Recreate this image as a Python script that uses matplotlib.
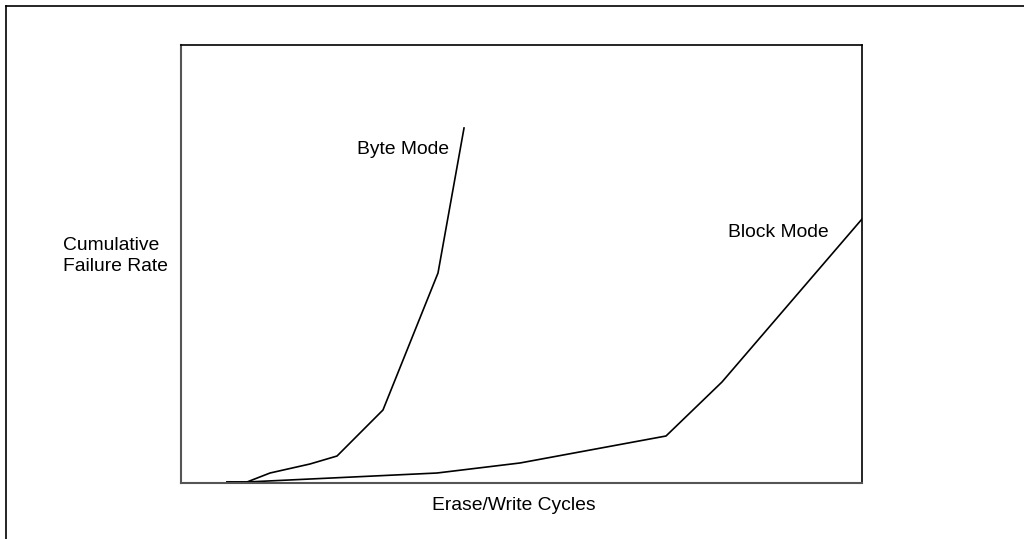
import matplotlib
matplotlib.use('Agg')
import matplotlib.pyplot as plt
from matplotlib.lines import Line2D

plt.rcParams['font.family'] = ['Liberation Sans', 'DejaVu Sans']

# curve points (x, y in 0-100 scale of the box)
byte_x = [6.75, 9.69, 13.07, 18.94, 22.91, 29.66, 37.74, 41.56]
byte_y = [0.23, 0.23, 2.28, 4.34, 6.16, 16.67, 47.95, 81.05]
block_x = [6.75, 9.69, 37.59, 49.78, 71.22, 79.44, 100.0]
block_y = [0.23, 0.23, 2.28, 4.57, 10.73, 23.06, 60.27]

W, H = 1024, 539
fs = 13.9
fig = plt.figure(figsize=(W/100, H/100), dpi=100)
ax = fig.add_axes([181/W, 1-483/H, 681/W, 438/H])

ax.plot(byte_x, byte_y, color='black', lw=1.2)
ax.plot(block_x, block_y, color='black', lw=1.2)
ax.set_xlim(0, 100)
ax.set_ylim(0, 100)
ax.set_xticks([])
ax.set_yticks([])
for s in ['left', 'bottom']:
    ax.spines[s].set_color('#555555')
    ax.spines[s].set_linewidth(1.5)
for s in ['top', 'right']:
    ax.spines[s].set_color('black')
    ax.spines[s].set_linewidth(1.2)

# labels placed in pixel positions (baseline)
def px_text(x, y, s, ha='left'):
    fig.text(x/W, 1-y/H, s, fontsize=fs, va='baseline', ha=ha)

px_text(357, 154, 'Byte Mode')
px_text(728, 237, 'Block Mode')
px_text(63, 250, 'Cumulative')
px_text(63, 271, 'Failure Rate')
px_text(514, 510, 'Erase/Write Cycles', ha='center')

# outer frame (top and left edges visible)
fig.add_artist(Line2D([5.5/W, 1], [1-5.5/H, 1-5.5/H], color='black', lw=1.2))
fig.add_artist(Line2D([5.5/W, 5.5/W], [0, 1-5.5/H], color='black', lw=1.2))

fig.savefig('out.png', dpi=100)
